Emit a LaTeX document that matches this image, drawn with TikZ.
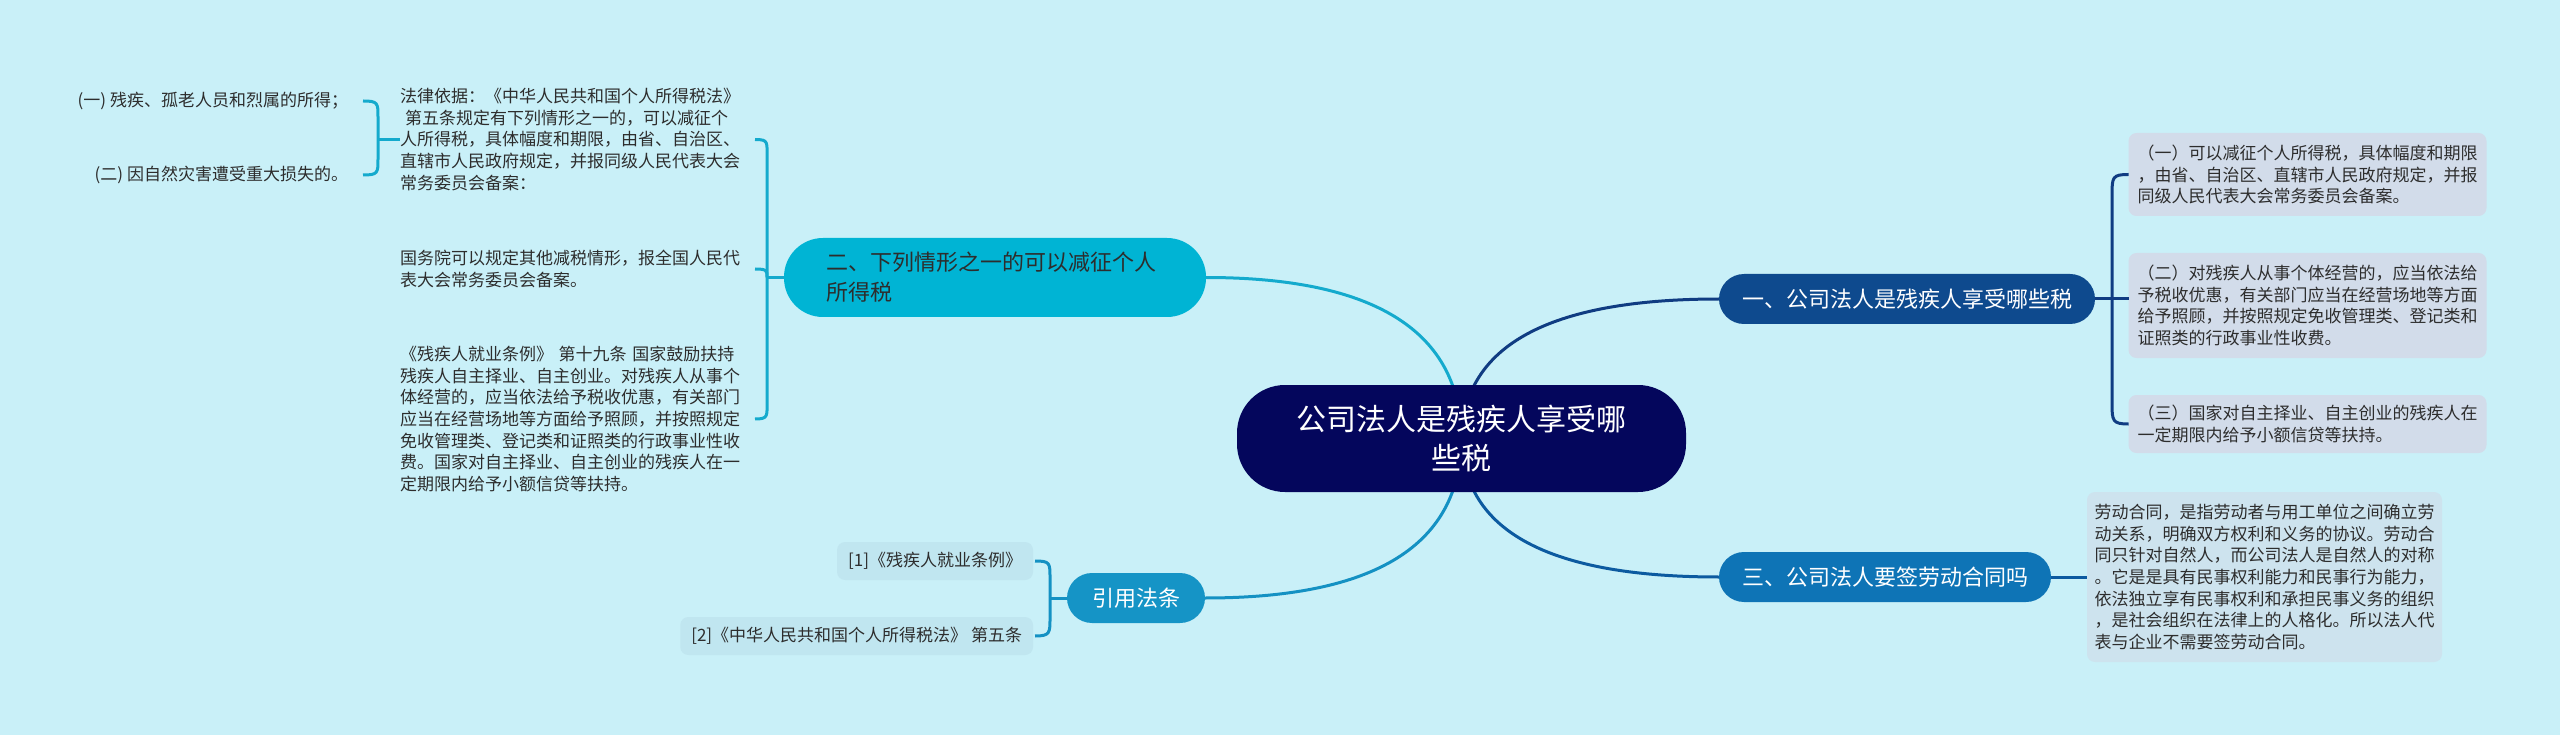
\documentclass[tikz,border=0pt]{standalone}
\usepackage{fontspec}
\setmainfont{Noto Sans CJK SC}
\usetikzlibrary{backgrounds}
\definecolor{cBg}{RGB}{201,240,248}
\definecolor{cRoot}{RGB}{4,6,92}
\definecolor{cOne}{RGB}{14,74,142}
\definecolor{cTwo}{RGB}{0,180,212}
\definecolor{cThree}{RGB}{14,116,182}
\definecolor{cRef}{RGB}{21,148,198}
\definecolor{lOneC}{RGB}{16,60,130}
\definecolor{lTwoC}{RGB}{20,170,205}
\definecolor{lThreeC}{RGB}{12,90,160}
\definecolor{lRefC}{RGB}{20,145,195}
\definecolor{cBoxA}{RGB}{210,220,234}
\definecolor{cBoxB}{RGB}{205,227,238}
\definecolor{cBoxC}{RGB}{192,230,240}
\definecolor{cTxt}{RGB}{45,45,45}
\begin{document}
\begin{tikzpicture}[x=1pt,y=-1pt,
  every node/.style={inner sep=0pt, outer sep=0pt},
  rootnode/.style={fill=cRoot, text=white, rounded corners=48pt, minimum width=449pt, minimum height=107pt, align=center, font=\fontsize{30}{39}\selectfont},
  pill/.style={text=white, font=\fontsize{22}{30}\selectfont, align=center, minimum height=50pt, rounded corners=25pt},
  smalltxt/.style={text=cTxt, font=\fontsize{17}{21.7}\selectfont, align=left},
  leafbox/.style={smalltxt, fill=cBoxA, rounded corners=8pt, text width=340pt, inner xsep=9pt},
  refbox/.style={smalltxt, fill=cBoxC, rounded corners=8pt, inner xsep=11pt, minimum height=38pt, anchor=east},
  lOne/.style={draw=lOneC, line width=3pt},
  lTwo/.style={draw=lTwoC, line width=3pt},
  lThree/.style={draw=lThreeC, line width=3pt},
  lRef/.style={draw=lRefC, line width=3pt}
]
\useasboundingbox (0,0) rectangle (2560,735);

% central and main branch nodes
\node[rootnode] (c) at (1461.5,438.5) {公司法人是残疾人享受哪\\些税};
\node[pill, fill=cOne, minimum width=376pt] (n1) at (1907,299) {一、公司法人是残疾人享受哪些税};
\node[pill, fill=cThree, minimum width=332pt] (n3) at (1885,577) {三、公司法人要签劳动合同吗};
\node[fill=cTwo, text=cTxt, align=left, text width=338pt, inner xsep=42pt, minimum height=79pt, rounded corners=39pt, font=\fontsize{22}{30}\selectfont] (n2) at (995,277.5) {二、下列情形之一的可以减征个人\\所得税};
\node[pill, fill=cRef, minimum width=138pt] (n4) at (1136,598) {引用法条};

% branch one leaves
\node[leafbox, minimum height=83pt] (b1) at (2307.5,174.5) {（一）可以减征个人所得税，具体幅度和期限\\，由省、自治区、直辖市人民政府规定，并报\\同级人民代表大会常务委员会备案。};
\node[leafbox, minimum height=105pt] (b2) at (2307.5,305.5) {（二）对残疾人从事个体经营的，应当依法给\\予税收优惠，有关部门应当在经营场地等方面\\给予照顾，并按照规定免收管理类、登记类和\\证照类的行政事业性收费。};
\node[leafbox, minimum height=58pt] (b3) at (2307.5,424) {（三）国家对自主择业、自主创业的残疾人在\\一定期限内给予小额信贷等扶持。};

% branch three leaf
\node[leafbox, fill=cBoxB, minimum height=170pt, inner xsep=7.5pt] (b4) at (2264.5,577) {劳动合同，是指劳动者与用工单位之间确立劳\\动关系，明确双方权利和义务的协议。劳动合\\同只针对自然人，而公司法人是自然人的对称\\。它是是具有民事权利能力和民事行为能力，\\依法独立享有民事权利和承担民事义务的组织\\，是社会组织在法律上的人格化。所以法人代\\表与企业不需要签劳动合同。};

% branch two texts
\node[smalltxt, anchor=west, text width=342pt] (t1) at (400,139.5) {法律依据：《中华人民共和国个人所得税法》\\\hspace*{5pt}第五条规定有下列情形之一的，可以减征个\\人所得税，具体幅度和期限，由省、自治区、\\直辖市人民政府规定，并报同级人民代表大会\\常务委员会备案：};
\node[smalltxt, anchor=west, text width=342pt] (t2) at (400,269) {国务院可以规定其他减税情形，报全国人民代\\表大会常务委员会备案。};
\node[smalltxt, anchor=west, text width=342pt] (t3) at (400,419) {《残疾人就业条例》 第十九条 国家鼓励扶持\\残疾人自主择业、自主创业。对残疾人从事个\\体经营的，应当依法给予税收优惠，有关部门\\应当在经营场地等方面给予照顾，并按照规定\\免收管理类、登记类和证照类的行政事业性收\\费。国家对自主择业、自主创业的残疾人在一\\定期限内给予小额信贷等扶持。};
\node[smalltxt, anchor=east] (s1) at (348,101) {(一) 残疾、孤老人员和烈属的所得；};
\node[smalltxt, anchor=east] (s2) at (348,175) {(二) 因自然灾害遭受重大损失的。};

% reference leaves
\node[refbox] (r1) at (1033,561) {[1]《残疾人就业条例》};
\node[refbox] (r2) at (1033,636) {[2]《中华人民共和国个人所得税法》 第五条};

% junction coordinates
\coordinate (j1) at (378,139.5);
\coordinate (j2) at (767,277.5);
\coordinate (j4) at (1050,598);

\begin{scope}[on background layer]
\fill[cBg] (0,0) rectangle (2560,735);
% main connectors
\draw[lOne] (c.center) .. controls +(2,-93) and +(-170,0) .. (n1.west);
\draw[lThree] (c.center) .. controls +(2,93) and +(-170,0) .. (n3.west);
\draw[lTwo] (c.center) .. controls +(-1,-107) and +(169,0) .. (n2.east);
\draw[lRef] (c.center) .. controls +(-1,107) and +(170,0) .. (n4.east);
\end{scope}

% branch one bracket
\draw[lOne] (n1.east) -- (n1.east -| b2.west);
\draw[lOne] (b1.west) .. controls +(-16,0) and +(0,-18) .. (2112,195) -- (2112,403) .. controls +(0,18) and +(-16,0) .. (b3.west);
% branch three connector
\draw[lThree] (n3.east) -- (b4.west);
% branch two bracket
\draw[lTwo] (j2) -- (n2.west);
\draw[lTwo] ([xshift=13pt]t1.east) .. controls +(14,0) and +(0,-18) .. (767,160) -- (767,398) .. controls +(0,18) and +(14,0) .. ([xshift=13pt]t3.east);
\draw[lTwo] ([xshift=13pt]t2.east) .. controls +(12,0) and +(0,-7) .. (j2);
% sub bracket of t1
\draw[lTwo] (j1) -- (t1.west);
\draw[lTwo] ([xshift=15pt]s1.east) .. controls +(15,0) and +(0,-14) .. (378,117) -- (378,159) .. controls +(0,14) and +(15,0) .. ([xshift=15pt]s2.east);
% reference bracket
\draw[lRef] (j4) -- (n4.west);
\draw[lRef] ([xshift=2pt]r1.east) .. controls +(15,0) and +(0,-15) .. (1050,578) -- (1050,618) .. controls +(0,15) and +(15,0) .. ([xshift=2pt]r2.east);
\end{tikzpicture}
\end{document}
